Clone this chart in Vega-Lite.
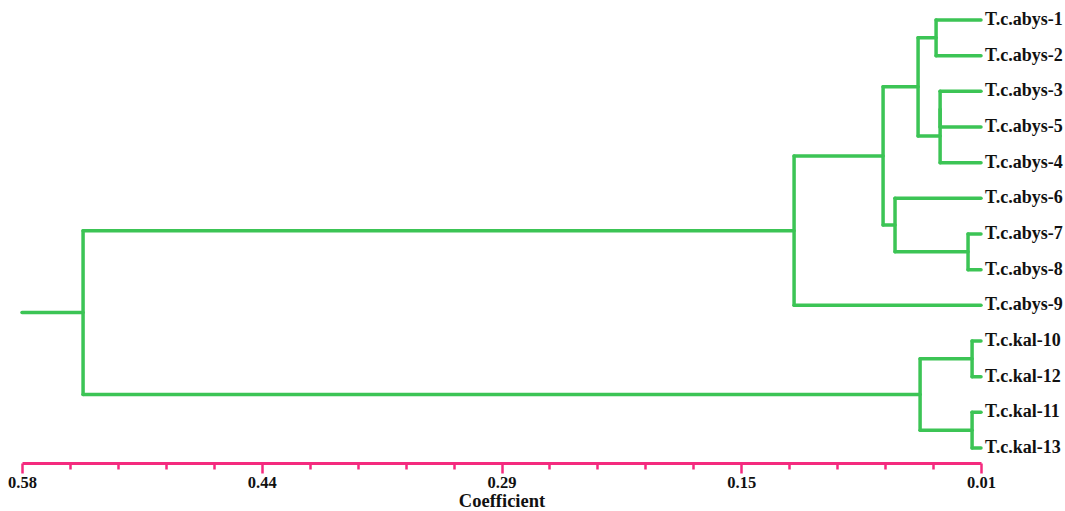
{
  "$schema": "https://vega.github.io/schema/vega-lite/v6.json",
  "autosize": {"type": "none"},
  "padding": {"left": 22, "top": 10, "right": 84, "bottom": 48},
  "width": 959,
  "height": 453,
  "background": "white",
  "config": {"view": {"stroke": null}},
  "datasets": {
    "segments": [
      {"x": 0.01, "x2": 0.0367, "y": 0, "y2": 0},
      {"x": 0.01, "x2": 0.0367, "y": 1, "y2": 1},
      {"x": 0.01, "x2": 0.0343, "y": 2, "y2": 2},
      {"x": 0.01, "x2": 0.0343, "y": 3, "y2": 3},
      {"x": 0.01, "x2": 0.0343, "y": 4, "y2": 4},
      {"x": 0.01, "x2": 0.0611, "y": 5, "y2": 5},
      {"x": 0.01, "x2": 0.0177, "y": 6, "y2": 6},
      {"x": 0.01, "x2": 0.0177, "y": 7, "y2": 7},
      {"x": 0.01, "x2": 0.1211, "y": 8, "y2": 8},
      {"x": 0.01, "x2": 0.0153, "y": 9, "y2": 9},
      {"x": 0.01, "x2": 0.0153, "y": 10, "y2": 10},
      {"x": 0.01, "x2": 0.0153, "y": 11, "y2": 11},
      {"x": 0.01, "x2": 0.0153, "y": 12, "y2": 12},
      {"x": 0.0367, "x2": 0.0474, "y": 0.5, "y2": 0.5},
      {"x": 0.0343, "x2": 0.0474, "y": 3.25, "y2": 3.25},
      {"x": 0.0474, "x2": 0.0682, "y": 1.875, "y2": 1.875},
      {"x": 0.0177, "x2": 0.0611, "y": 6.5, "y2": 6.5},
      {"x": 0.0611, "x2": 0.0682, "y": 5.75, "y2": 5.75},
      {"x": 0.0682, "x2": 0.1211, "y": 3.8125, "y2": 3.8125},
      {"x": 0.1211, "x2": 0.5437, "y": 5.90625, "y2": 5.90625},
      {"x": 0.0153, "x2": 0.0462, "y": 9.5, "y2": 9.5},
      {"x": 0.0153, "x2": 0.0462, "y": 11.5, "y2": 11.5},
      {"x": 0.0462, "x2": 0.5437, "y": 10.5, "y2": 10.5},
      {"x": 0.5437, "x2": 0.58, "y": 8.203, "y2": 8.203},
      {"x": 0.0367, "x2": 0.0367, "y": 0, "y2": 1},
      {"x": 0.0343, "x2": 0.0343, "y": 2, "y2": 3},
      {"x": 0.0343, "x2": 0.0343, "y": 2.5, "y2": 4},
      {"x": 0.0474, "x2": 0.0474, "y": 0.5, "y2": 3.25},
      {"x": 0.0177, "x2": 0.0177, "y": 6, "y2": 7},
      {"x": 0.0611, "x2": 0.0611, "y": 5, "y2": 6.5},
      {"x": 0.0682, "x2": 0.0682, "y": 1.875, "y2": 5.75},
      {"x": 0.1211, "x2": 0.1211, "y": 3.8125, "y2": 8},
      {"x": 0.0153, "x2": 0.0153, "y": 9, "y2": 10},
      {"x": 0.0153, "x2": 0.0153, "y": 11, "y2": 12},
      {"x": 0.0462, "x2": 0.0462, "y": 9.5, "y2": 11.5},
      {"x": 0.5437, "x2": 0.5437, "y": 5.90625, "y2": 10.5}
    ],
    "leaves": [
      {"name": "T.c.abys-1", "x": 0.01, "y": 0},
      {"name": "T.c.abys-2", "x": 0.01, "y": 1},
      {"name": "T.c.abys-3", "x": 0.01, "y": 2},
      {"name": "T.c.abys-5", "x": 0.01, "y": 3},
      {"name": "T.c.abys-4", "x": 0.01, "y": 4},
      {"name": "T.c.abys-6", "x": 0.01, "y": 5},
      {"name": "T.c.abys-7", "x": 0.01, "y": 6},
      {"name": "T.c.abys-8", "x": 0.01, "y": 7},
      {"name": "T.c.abys-9", "x": 0.01, "y": 8},
      {"name": "T.c.kal-10", "x": 0.01, "y": 9},
      {"name": "T.c.kal-12", "x": 0.01, "y": 10},
      {"name": "T.c.kal-11", "x": 0.01, "y": 11},
      {"name": "T.c.kal-13", "x": 0.01, "y": 12}
    ]
  },
  "layer": [
    {
      "data": {"name": "segments"},
      "mark": {"type": "rule", "color": "#3CC455", "strokeWidth": 3.5, "strokeCap": "round"},
      "encoding": {
        "x": {
          "field": "x", "type": "quantitative",
          "scale": {"domain": [0.01, 0.58], "reverse": true, "nice": false, "zero": false},
          "axis": {
            "orient": "bottom",
            "values": [0.58, 0.4375, 0.295, 0.1525, 0.01],
            "labelExpr": "datum.value > 0.5 ? '0.58' : datum.value > 0.4 ? '0.44' : datum.value > 0.25 ? '0.29' : datum.value > 0.1 ? '0.15' : '0.01'",
            "grid": false,
            "domainColor": "#F42A7E", "domainWidth": 3,
            "tickColor": "#F42A7E", "tickWidth": 2.5, "tickSize": 10,
            "labelFont": "Liberation Serif", "labelFontWeight": "bold", "labelFontSize": 16.5, "labelColor": "#111111",
            "labelPadding": 1, "labelFlush": false, "labelOverlap": false,
            "title": "Coefficient",
            "titleFont": "Liberation Serif", "titleFontWeight": "bold", "titleFontSize": 18.5, "titleColor": "#111111",
            "titlePadding": 1
          }
        },
        "x2": {"field": "x2"},
        "y": {
          "field": "y", "type": "quantitative",
          "scale": {"domain": [-0.28, 12.42], "reverse": true, "nice": false, "zero": false},
          "axis": null
        },
        "y2": {"field": "y2"}
      }
    },
    {
      "data": {"name": "leaves"},
      "mark": {"type": "text", "align": "left", "baseline": "middle", "dx": 4, "font": "Liberation Serif", "fontWeight": "bold", "fontSize": 18, "color": "#111111"},
      "encoding": {
        "x": {
          "field": "x", "type": "quantitative",
          "axis": {
            "orient": "bottom",
            "values": [0.5515, 0.523, 0.4945, 0.466, 0.409, 0.3805, 0.352, 0.3235, 0.2665, 0.238, 0.2095, 0.181, 0.124, 0.0955, 0.067, 0.0385],
            "grid": false, "domain": false, "labels": false, "title": null,
            "tickColor": "#F42A7E", "tickWidth": 2.5, "tickSize": 6
          }
        },
        "y": {"field": "y", "type": "quantitative", "axis": null},
        "text": {"field": "name"}
      }
    }
  ],
  "resolve": {"axis": {"x": "independent"}}
}
